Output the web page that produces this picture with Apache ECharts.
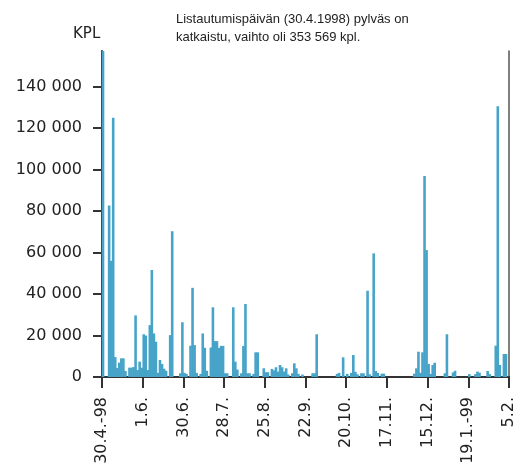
<!DOCTYPE html>
<html>
<head>
<meta charset="utf-8">
<script src="https://cdn.jsdelivr.net/npm/echarts@6/dist/echarts.min.js"></script>
<style>
    html, body { margin: 0; padding: 0; background: #fff; }
    #chart { width: 518px; height: 467px; }
</style>
</head>
<body>
<div id="chart"></div>
<script>
// kaupankäyntipäivät 30.4.1998 - 5.2.1999, yksi arvo per päivä (kpl)
const volumes = [
    353569, 0, 0, 82700, 56000, 125000, 9600, 4300, 6900, 9000,
    9000, 2900, 0, 4500, 4500, 4800, 29700, 3400, 7400, 4500,
    20600, 20000, 3400, 25000, 51600, 21000, 17000, 2000, 8200, 6300,
    4000, 3000, 0, 20200, 70300, 0, 0, 0, 1800, 26400,
    2000, 1500, 0, 15100, 43000, 15400, 2000, 0, 1500, 21000,
    14100, 3000, 0, 14200, 33600, 17300, 17300, 14000, 15000, 15000,
    1800, 1800, 0, 0, 33600, 7400, 3600, 0, 1800, 15000,
    35200, 1800, 1800, 0, 1500, 11900, 11900, 0, 0, 4200,
    2300, 2300, 0, 3900, 3200, 4700, 2600, 5800, 4700, 2600,
    4200, 1200, 0, 1800, 6600, 4200, 1500, 0, 1200, 0,
    0, 0, 0, 1800, 1800, 20600, 0, 0, 0, 0,
    0, 0, 0, 0, 0, 1500, 2000, 0, 9500, 0,
    1500, 0, 2000, 10600, 2500, 1300, 0, 1800, 1800, 0,
    41600, 1300, 0, 59600, 2900, 2000, 0, 1600, 1600, 0,
    0, 0, 0, 0, 0, 0, 0, 0, 0, 0,
    0, 0, 0, 1600, 4200, 12200, 2000, 11900, 96900, 61200,
    6300, 1500, 5800, 6900, 0, 0, 0, 0, 1800, 20600,
    0, 0, 2200, 3000, 0, 0, 0, 0, 0, 0,
    1400, 0, 0, 1400, 2600, 2100, 0, 0, 0, 2900,
    1400, 0, 0, 15100, 130600, 5800, 0, 11100, 11100, 0
];
const tickLabels = ['30.4.-98', '1.6.', '30.6.', '28.7.', '25.8.', '22.9.',
    '20.10.', '17.11.', '15.12.', '19.1.-99', '5.2.'];
const yTicks = [0, 20000, 40000, 60000, 80000, 100000, 120000, 140000];

const barColor = '#47a4c8';
const axisColor = '#333';
const font = 'DejaVu Sans';

const chart = echarts.init(document.getElementById('chart'));

chart.setOption({
    animation: false,
    grid: { left: 102, right: 9, top: 51, bottom: 90 },
    graphic: [
        {
            type: 'text', left: 73, top: 27,
            style: { text: 'KPL', font: '15px ' + font, fill: '#222' }
        },
        {
            type: 'text', left: 176, top: 10,
            style: {
                text: 'Listautumispäivän (30.4.1998) pylväs on\nkatkaistu, vaihto oli 353 569 kpl.',
                font: '13px "Liberation Sans"', fill: '#222', lineHeight: 18
            }
        }
    ],
    xAxis: {
        type: 'value',
        min: 0,
        max: volumes.length,
        interval: 20,
        splitLine: { show: false },
        axisLine: { lineStyle: { color: axisColor, width: 2 } },
        axisTick: { length: 11, lineStyle: { color: axisColor, width: 2 } },
        axisLabel: {
            rotate: 90,
            margin: 20,
            fontFamily: font,
            fontSize: 16,
            color: '#222',
            formatter: v => tickLabels[Math.round(v / 20)] || ''
        }
    },
    yAxis: [
        {
            type: 'value',
            min: 0,
            max: 157200,
            splitLine: { show: false },
            axisLine: { show: true, lineStyle: { color: axisColor, width: 2 } },
            axisTick: { length: 9, customValues: yTicks, lineStyle: { color: axisColor, width: 2 } },
            axisLabel: {
                margin: 20,
                customValues: yTicks,
                fontFamily: font,
                fontSize: 16,
                color: '#222',
                formatter: v => v === 0 ? '0' : (v / 1000) + ' 000'
            }
        },
        {
            type: 'value',
            position: 'right',
            min: 0,
            max: 157200,
            splitLine: { show: false },
            axisLine: { show: true, lineStyle: { color: '#555', width: 1.5 } },
            axisTick: { show: false },
            axisLabel: { show: false }
        }
    ],
    series: [{
        type: 'bar',
        barWidth: 2.6,
        itemStyle: { color: barColor },
        data: volumes.map((v, i) => [i + 0.5, v])
    }]
});
</script>
</body>
</html>
